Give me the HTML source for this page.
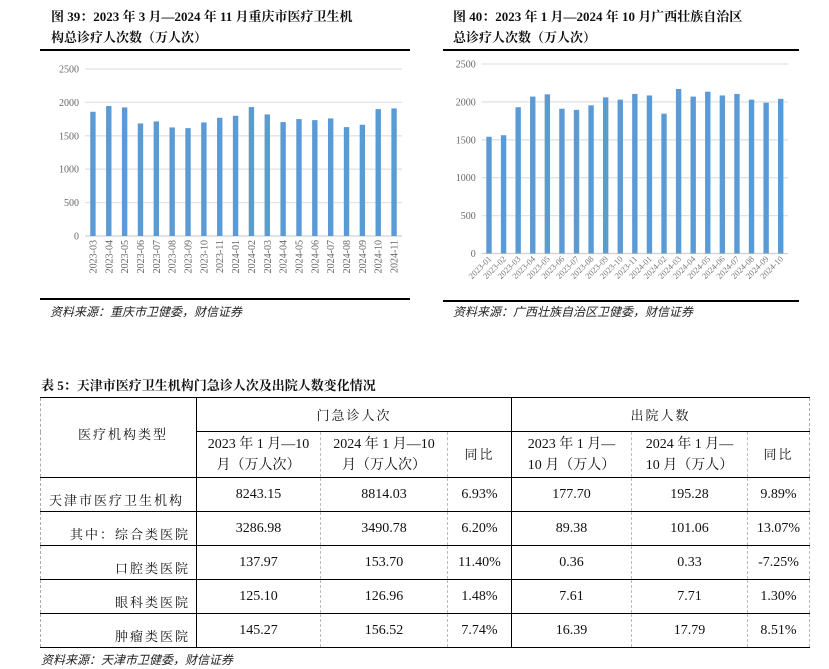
<!DOCTYPE html>
<html><head><meta charset="utf-8">
<style>
body{margin:0;width:829px;height:669px;background:#fff;position:relative;overflow:hidden;font-family:"Liberation Serif","Noto Serif CJK SC",serif;}
.abs{position:absolute;}
.ttl{font-weight:bold;font-size:13px;line-height:21px;color:#111;}
.src{font-style:italic;font-size:12px;color:#222;font-family:"Liberation Serif","Noto Sans CJK SC",serif;}
table{border-collapse:collapse;position:absolute;left:40px;top:397px;font-size:14px;color:#111;font-family:"Liberation Serif","Noto Serif CJK SC",serif;table-layout:fixed;}
td{padding:0;text-align:center;vertical-align:middle;white-space:nowrap;overflow:hidden;}
.cn{letter-spacing:2px;}
.dn{position:relative;top:5px;}
</style></head><body>
<div class="abs ttl" style="left:51px;top:6px;">图 39：2023 年 3 月—2024 年 11 月重庆市医疗卫生机<br>构总诊疗人次数（万人次）</div>
<div class="abs ttl" style="left:453px;top:6px;">图 40：2023 年 1 月—2024 年 10 月广西壮族自治区<br>总诊疗人次数（万人次）</div>
<div class="abs" style="left:40px;top:49px;width:370px;height:1.5px;background:#000"></div>
<div class="abs" style="left:40px;top:298px;width:370px;height:1.5px;background:#000"></div>
<div class="abs" style="left:443px;top:49px;width:356px;height:1.5px;background:#000"></div>
<div class="abs" style="left:443px;top:300px;width:356px;height:1.5px;background:#000"></div>
<div class="abs src" style="left:50px;top:303px;">资料来源：重庆市卫健委，财信证券</div>
<div class="abs src" style="left:453px;top:303px;">资料来源：广西壮族自治区卫健委，财信证券</div>
<svg id="c1" class="abs" style="left:0;top:0" width="829" height="330"></svg>
<script>
const cats1=["2023-03","2023-04","2023-05","2023-06","2023-07","2023-08","2023-09","2023-10","2023-11","2024-01","2024-02","2024-03","2024-04","2024-05","2024-06","2024-07","2024-08","2024-09","2024-10","2024-11"];
const vals1=[1860,1945,1925,1685,1715,1625,1615,1700,1770,1800,1930,1820,1705,1750,1735,1760,1630,1665,1900,1910];
const cats2=["2023-01","2023-02","2023-03","2023-04","2023-05","2023-06","2023-07","2023-08","2023-09","2023-10","2023-11","2024-01","2024-02","2024-03","2024-04","2024-05","2024-06","2024-07","2024-08","2024-09","2024-10"];
const vals2=[1540,1560,1930,2070,2100,1910,1895,1955,2060,2030,2105,2085,1845,2170,2070,2135,2085,2105,2030,1990,2040];
const ticks=[0,500,1000,1500,2000,2500];
const NS="http://www.w3.org/2000/svg";
const svg=document.getElementById('c1');
function mk(t,a){const e=document.createElementNS(NS,t);for(const k in a)e.setAttribute(k,a[k]);svg.appendChild(e);return e;}
function draw(cats,vals,x0,x1,y0,y2500,rot,pre){
  const y=v=>y0-(y0-y2500)*v/2500;
  const step=(x1-x0)/cats.length;
  ticks.forEach(t=>{
    const l=mk('line',{x1:x0,x2:x1,y1:y(t),y2:y(t),stroke:t===0?'#d0d0d0':'#e2e2e2','stroke-width':1.3});
    
    
    const tx=mk('text',{x:x0-6,y:y(t)+3.5,'text-anchor':'end','font-size':10,fill:'#666','font-family':'Liberation Serif,serif'});
    tx.textContent=t;
    
    
  });
  cats.forEach((c,i)=>{
    const cx=x0+step*(i+0.5);
    const b=mk('rect',{x:cx-2.7,y:y(vals[i]),width:5.4,height:y0-y(vals[i]),fill:'#5b9bd5'});
    
    
    let t;
    if(rot===90){t=mk('text',{x:0,y:0,transform:`translate(${cx+3.5},${y0+4}) rotate(-90)`,'text-anchor':'end','font-size':10,fill:'#666','font-family':'Liberation Serif,serif'});}
    else{t=mk('text',{x:0,y:0,transform:`translate(${cx+3},${y0+6}) rotate(-45)`,'text-anchor':'end','font-size':8.5,fill:'#777','font-family':'Liberation Serif,serif'});}
    t.textContent=c;
    
    
  });
}
draw(cats1,vals1,85,402,236,69,90,'chart39');
draw(cats2,vals2,481.7,788,253.5,64,45,'chart40');
</script>
<div class="abs ttl" style="left:41px;top:375px;">表 5：天津市医疗卫生机构门急诊人次及出院人数变化情况</div>
<table>
<colgroup><col style="width:156px"><col style="width:124px"><col style="width:127px"><col style="width:64px"><col style="width:120px"><col style="width:116px"><col style="width:62px"></colgroup>
<tr style="height:34px">
<td rowspan="2" class="cn" style="border-left:1px dashed #aaa;border-top:1.5px solid #000;border-right:1.5px solid #000;border-bottom:1.5px solid #000;text-align:left;padding-left:37px;font-size:13px;"><span style="position:relative;top:-4px">医疗机构类型</span></td>
<td colspan="3" class="cn" style="border-top:1.5px solid #000;border-bottom:1.5px solid #000;border-right:1.5px solid #000;font-size:13px;">门急诊人次</td>
<td colspan="3" class="cn" style="border-top:1.5px solid #000;border-bottom:1.5px solid #000;border-right:1px dashed #aaa;font-size:13px;">出院人数</td></tr>
<tr style="height:46px;line-height:21px">
<td style="border-right:1px dashed #bbb;border-bottom:1.5px solid #000;">2023 年 1 月—10<br>月（万人次）</td>
<td style="border-right:1px dashed #bbb;border-bottom:1.5px solid #000;">2024 年 1 月—10<br>月（万人次）</td>
<td class="cn" style="border-right:1.5px solid #000;border-bottom:1.5px solid #000;font-size:13px;">同比</td>
<td style="border-right:1px dashed #bbb;border-bottom:1.5px solid #000;">2023 年 1 月—<br>10 月（万人）</td>
<td style="border-right:1px dashed #bbb;border-bottom:1.5px solid #000;">2024 年 1 月—<br>10 月（万人）</td>
<td class="cn" style="border-right:1px dashed #aaa;border-bottom:1.5px solid #000;font-size:13px;">同比</td></tr>
<script>
const rows=[["天津市医疗卫生机构","8243.15","8814.03","6.93%","177.70","195.28","9.89%"],["其中：综合类医院","3286.98","3490.78","6.20%","89.38","101.06","13.07%"],["口腔类医院","137.97","153.70","11.40%","0.36","0.33","-7.25%"],["眼科类医院","125.10","126.96","1.48%","7.61","7.71","1.30%"],["肿瘤类医院","145.27","156.52","7.74%","16.39","17.79","8.51%"]];
rows.forEach((r,ri)=>{
  let h='<tr style="height:34px">';
  r.forEach((c,ci)=>{
    let st='border-bottom:1.5px solid #000;';
    st+=(ci===0||ci===3)?'border-right:1.5px solid #000;':'border-right:1px dashed #bbb;';
    let txt=c;
    if(ci===0){st+='border-left:1px dashed #aaa;letter-spacing:2px;font-size:13px;';st+=ri===0?'text-align:left;padding-left:8px;':'text-align:right;padding-right:6px;';txt='<span class="dn">'+c+'</span>';}
    h+='<td style="'+st+'">'+txt+'</td>';
  });
  document.write(h+'</tr>');
});
</script>
</table>
<div class="abs src" style="left:41px;top:651px;">资料来源：天津市卫健委，财信证券</div>
</body></html>
